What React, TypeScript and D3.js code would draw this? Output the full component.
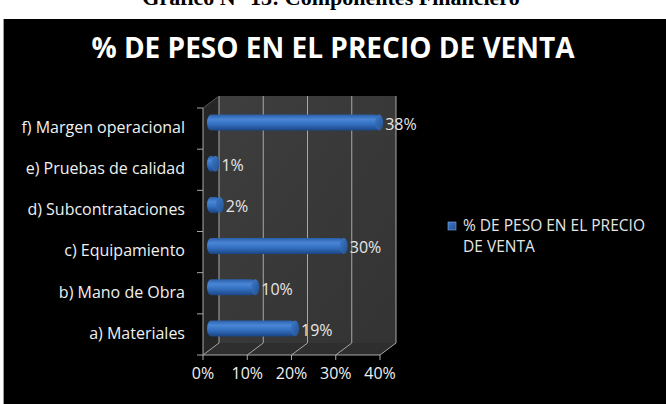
import React from 'react';
import * as d3 from 'd3';

// datos del gráfico
const categories = [
  'a) Materiales',
  'b) Mano de Obra',
  'c) Equipamiento',
  'd) Subcontrataciones',
  'e) Pruebas de calidad',
  'f) Margen operacional',
];
const values = [0.19, 0.1, 0.3, 0.02, 0.01, 0.38];
const valueLabels = ['19%', '10%', '30%', '2%', '1%', '38%'];
const xTicks = [0, 0.1, 0.2, 0.3, 0.4];
const seriesName = '% DE PESO EN EL PRECIO DE VENTA';
const pageTitle = 'Gráfico N° 13: Componentes Financiero';

const W = 666;
const H = 404;
const FONT = "'Open Sans', 'DejaVu Sans', sans-serif";

export default function App() {
  // profundidad 3D
  const dx = 16;
  const dy = -12;

  const x = d3.scaleLinear().domain([0, 0.4]).range([203, 380]);
  const y = d3
    .scaleBand<string>()
    .domain([...categories].reverse())
    .range([108, 355]);

  const x0 = x(0);
  const x1 = x(0.4);
  const yTop = y.range()[0];
  const yBot = y.range()[1];
  const barH = 16;

  const fmt = d3.format('.0%');

  return (
    <svg
      width={W}
      height={H}
      style={{ position: 'absolute', left: 0, top: 0, display: 'block' }}
    >
      <defs>
        <linearGradient id="bar" x1="0" y1="0" x2="0" y2="1">
          <stop offset="0" stopColor="#2a5fa8" />
          <stop offset="0.3" stopColor="#4a86d6" />
          <stop offset="0.6" stopColor="#3470c0" />
          <stop offset="1" stopColor="#1b4585" />
        </linearGradient>
        <linearGradient id="cap" x1="0" y1="0" x2="1" y2="1">
          <stop offset="0" stopColor="#3f7acb" />
          <stop offset="1" stopColor="#21508f" />
        </linearGradient>
        <linearGradient id="wall" x1="0" y1="0" x2="1" y2="1">
          <stop offset="0" stopColor="#3e3e3e" />
          <stop offset="1" stopColor="#333333" />
        </linearGradient>
      </defs>

      <rect x={0} y={0} width={W} height={H} fill="#ffffff" />
      <text
        x={331}
        y={5}
        textAnchor="middle"
        fontFamily="'Liberation Serif', serif"
        fontWeight="bold"
        fontSize={22}
        fill="#000"
      >
        {pageTitle}
      </text>

      <rect x={3} y={19} width={W - 3} height={H - 19} fill="#000" />
      <line x1={3.5} y1={19} x2={3.5} y2={H} stroke="#9a9a9a" strokeWidth={1} />

      <text
        x={333}
        y={58}
        textAnchor="middle"
        fontFamily={FONT}
        fontWeight="bold"
        fontSize={28}
        fill="#ffffff"
      >
        {seriesName}
      </text>

      {/* pared trasera */}
      <rect
        x={x0 + dx}
        y={yTop + dy}
        width={x1 - x0}
        height={yBot - yTop}
        fill="url(#wall)"
      />
      {/* pared lateral */}
      <polygon
        points={`${x0},${yTop} ${x0 + dx},${yTop + dy} ${x0 + dx},${yBot + dy} ${x0},${yBot}`}
        fill="#262626"
      />
      {/* piso */}
      <polygon
        points={`${x0},${yBot} ${x0 + dx},${yBot + dy} ${x1 + dx},${yBot + dy} ${x1},${yBot}`}
        fill="#2e2e2e"
      />

      {/* grilla */}
      {xTicks.map((t) => (
        <g key={t} stroke="#a8a8a8" strokeWidth={1} fill="none">
          <line x1={x(t) + dx} y1={yTop + dy} x2={x(t) + dx} y2={yBot + dy} />
          <line x1={x(t)} y1={yBot} x2={x(t) + dx} y2={yBot + dy} />
          <line x1={x(t)} y1={yBot} x2={x(t)} y2={yBot + 5} />
        </g>
      ))}
      <line x1={x0} y1={yBot} x2={x1} y2={yBot} stroke="#a8a8a8" />
      <line x1={x0} y1={yTop} x2={x0} y2={yBot} stroke="#a8a8a8" />
      <line x1={x0} y1={yTop} x2={x0 + dx} y2={yTop + dy} stroke="#555" />
      {[...categories, ''].map((_, i) => {
        const yy = yTop + i * y.step();
        return (
          <line key={i} x1={x0 - 6} y1={yy} x2={x0} y2={yy} stroke="#a8a8a8" />
        );
      })}

      {/* barras cilíndricas */}
      {categories.map((c, i) => {
        const cy = (y(c) ?? 0) + y.bandwidth() / 2 + dy / 2;
        const bx0 = x(0) + dx / 2;
        const bx1 = x(values[i]) + dx / 2;
        const r = 4;
        return (
          <g key={c}>
            <rect
              x={bx0 - r}
              y={cy - barH / 2}
              width={bx1 - bx0 + r}
              height={barH}
              rx={r}
              ry={barH / 2}
              fill="url(#bar)"
            />
            <ellipse
              cx={bx1}
              cy={cy}
              rx={r}
              ry={barH / 2}
              fill="url(#cap)"
            />
            <text
              x={bx1 + 6}
              y={cy + 3}
              dominantBaseline="middle"
              fontFamily={FONT}
              fontSize={16}
              fill="#e6e6e6"
            >
              {valueLabels[i]}
            </text>
          </g>
        );
      })}

      {/* etiquetas de categorías */}
      {categories.map((c) => (
        <text
          key={c}
          x={185}
          y={(y(c) ?? 0) + y.bandwidth() / 2}
          textAnchor="end"
          dominantBaseline="middle"
          fontFamily={FONT}
          fontSize={16}
          fill="#f0f0f0"
        >
          {c}
        </text>
      ))}

      {/* eje x */}
      {xTicks.map((t) => (
        <text
          key={t}
          x={x(t)}
          y={375}
          textAnchor="middle"
          dominantBaseline="middle"
          fontFamily={FONT}
          fontSize={16}
          fill="#f0f0f0"
        >
          {fmt(t)}
        </text>
      ))}

      {/* leyenda */}
      <rect x={448} y={222} width={8} height={8} fill="url(#cap)" stroke="#7fa9e0" strokeWidth={0.6} />
      <text x={463} y={227} dominantBaseline="middle" fontFamily={FONT} fontSize={15.5} fill="#e6e6e6">
        <tspan x={463}>% DE PESO EN EL PRECIO</tspan>
        <tspan x={463} dy={21}>DE VENTA</tspan>
      </text>
    </svg>
  );
}
